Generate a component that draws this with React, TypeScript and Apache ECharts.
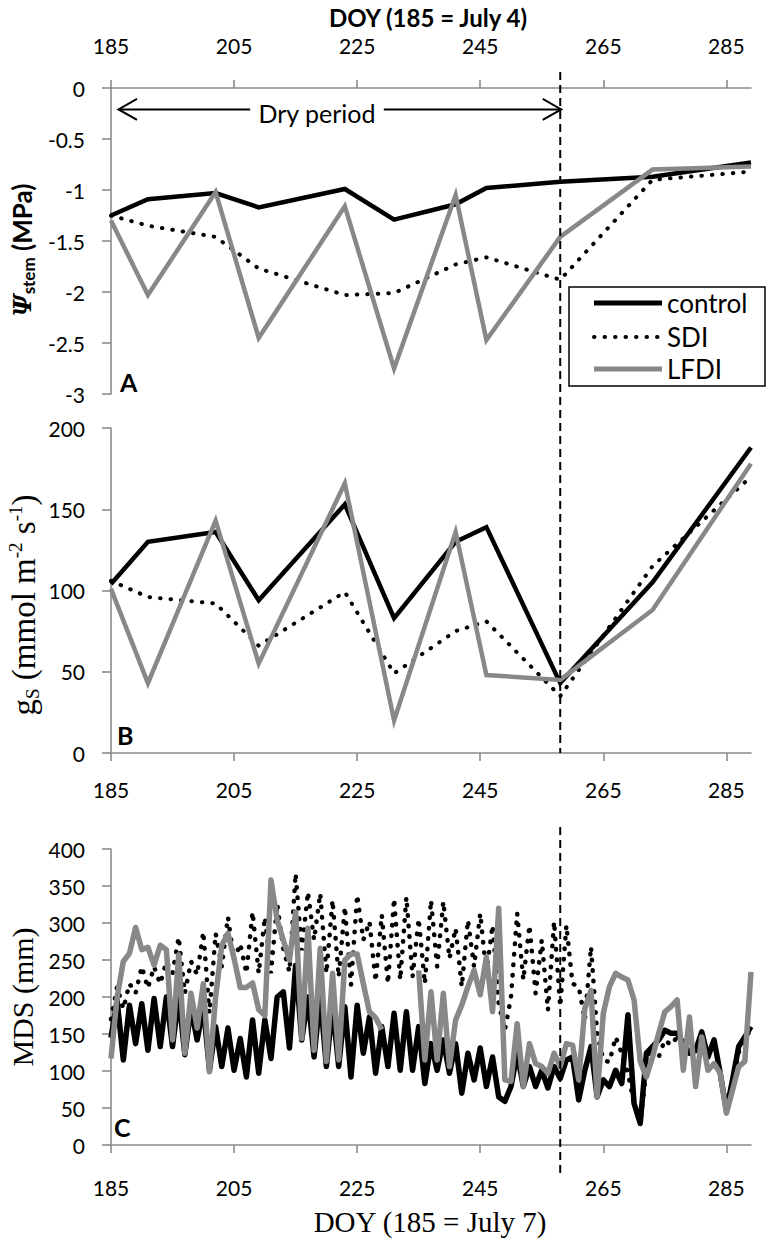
import React, { useEffect, useRef } from "react";
import * as echarts from "echarts";

// ---------------- data ----------------
// Panel A and B sampling days (DOY)
const sampleDays = [185, 191, 202, 209, 223, 231, 241, 246, 258, 273, 289];

// Panel A: stem water potential (MPa)
const psiControl = [-1.25, -1.09, -1.03, -1.17, -0.99, -1.29, -1.14, -0.98, -0.92, -0.87, -0.73];
const psiSDI = [-1.25, -1.35, -1.46, -1.77, -2.03, -2.01, -1.73, -1.66, -1.88, -0.9, -0.82];
const psiLFDI = [-1.3, -2.03, -1.02, -2.45, -1.16, -2.75, -1.05, -2.47, -1.46, -0.8, -0.77];

// Panel B: stomatal conductance (mmol m-2 s-1)
const gsControl = [104, 130, 136, 94, 153, 83, 130, 139, 43, 105, 188];
const gsSDI = [106, 96, 92, 66, 99, 49, 75, 81, 35, 115, 170];
const gsLFDI = [101, 43, 143, 55, 166, 20, 136, 48, 45, 88, 178];

// Panel C: daily MDS (mm), DOY 185 ... 289
const mdsFirstDay = 185;
const mdsControl = [
  145, 195, 115, 189, 137, 191, 128, 198, 133, 200,
  133, 200, 122, 185, 142, 187, 101, 160, 106, 158,
  101, 144, 92, 169, 97, 169, 117, 200, 207, 131,
  243, 142, 200, 119, 200, 106, 187, 106, 187, 92,
  189, 124, 173, 97, 160, 106, 178, 101, 180, 101,
  160, 83, 137, 101, 142, 97, 137, 70, 124, 88,
  131, 79, 119, 65, 59, 79, 124, 79, 106, 79,
  101, 77, 106, 90, 115, 119, 61, 101, 133, 65,
  88, 79, 101, 83, 176, 56, 29, 124, 133, 142,
  155, 151, 151, 137, 124, 128, 153, 119, 142, 97,
  47, 88, 133, 146, 160,
];
const mdsSDI = [
  170, 214, 184, 218, 205, 241, 212, 241, 218, 248,
  232, 281, 205, 248, 230, 288, 178, 286, 241, 308,
  250, 272, 232, 315, 232, 308, 232, 326, 265, 234,
  367, 263, 342, 277, 340, 232, 331, 227, 322, 216,
  338, 277, 302, 221, 311, 218, 333, 223, 335, 227,
  306, 218, 331, 241, 329, 252, 293, 214, 304, 241,
  313, 232, 297, 191, 155, 200, 313, 223, 297, 205,
  277, 182, 302, 187, 297, 218, 214, 169, 268, 151,
  115, 112, 146, 124, 97, 56, 29, 101, 133, 119,
  142, 135, 146, 140, 125, 125, 150, 120, 140, 95,
  45, 85, 125, 145, 155,
];
const mdsLFDI = [
  117, 200, 248, 259, 294, 264, 267, 243, 270, 264,
  142, 257, 124, 205, 158, 218, 99, 200, 270, 286,
  252, 213, 213, 219, 183, 175, 358, 304, 277, 250,
  315, 144, 293, 128, 266, 113, 232, 115, 250, 258,
  258, 218, 180, 172, 156, null, null, null, null, null,
  236, 115, 207, 115, 205, 106, 169, 189, 214, 236,
  203, 254, 180, 320, 88, 86, 164, 79, 137, 110,
  106, 97, 124, 106, 137, 135, 88, 185, 209, 65,
  178, 214, 232, 227, 223, 196, 113, 92, 119, 151,
  180, 187, 196, 101, 173, 79, 146, 101, 110, 97,
  43, 74, 106, 113, 234,
];

const seriesNames = ["control", "SDI", "LFDI"];
const doyTicks = [185, 205, 225, 245, 265, 285];
const doyMin = 185;
const doyMax = 289;
const irrigationResumeDay = 258;

// ---------------- styles ----------------
const BLACK = "#000000";
const GRAY = "#888888";
const AXIS = "#8c8c8c";
const SANS = "Lato, 'Open Sans', sans-serif";
const SERIF = "'Liberation Serif', 'DejaVu Serif', serif";

const pairs = (days: number[], vals: (number | null)[]) =>
  vals.map((v, i) => [days[i], v]);
const mdsDays = mdsControl.map((_, i) => mdsFirstDay + i);

const lineStyles = (join: string, w: number, dotW: number) => [
  { color: BLACK, width: w, type: "solid", join },
  { color: BLACK, width: dotW, type: [0.5, 10], cap: "round" },
  { color: GRAY, width: w, type: "solid", join },
];

export default function App() {
  const ref = useRef<HTMLDivElement>(null);

  useEffect(() => {
    if (!ref.current) return;
    const chart = echarts.init(ref.current, null, { renderer: "svg" });

    const panels = [
      { days: sampleDays, data: [psiControl, psiSDI, psiLFDI], join: "miter", w: 4.5, dotW: 4 },
      { days: sampleDays, data: [gsControl, gsSDI, gsLFDI], join: "miter", w: 4.5, dotW: 4 },
      { days: mdsDays, data: [mdsControl, mdsSDI, mdsLFDI], join: "round", w: 5.5, dotW: 4.5 },
    ];

    const series: any[] = [];
    panels.forEach((p, gi) => {
      const ls = lineStyles(p.join, p.w, p.dotW);
      p.data.forEach((vals, si) => {
        series.push({
          type: "line",
          name: seriesNames[si],
          xAxisIndex: gi,
          yAxisIndex: gi,
          data: pairs(p.days, vals),
          showSymbol: false,
          symbol: "none",
          connectNulls: false,
          lineStyle: ls[si],
          z: 2 + si,
          silent: true,
        });
      });
    });

    const grids = [
      { left: 111, top: 88, width: 640, height: 306 },
      { left: 111, top: 428, width: 640, height: 325 },
      { left: 111, top: 849, width: 640, height: 296 },
    ];
    const yCfg = [
      { min: -3, max: 0, interval: 0.5 },
      { min: 0, max: 200, interval: 50 },
      { min: 0, max: 400, interval: 50 },
    ];
    const axisLineStyle = { color: AXIS, width: 1.6 };
    const labelFont = { fontFamily: SANS, fontSize: 21, color: "#000" };

    const option: any = {
      animation: false,
      backgroundColor: "#ffffff",
      grid: grids,
      xAxis: [0, 1, 2].map((i) => ({
        type: "value",
        gridIndex: i,
        min: doyMin,
        max: doyMax,
        position: i === 0 ? "top" : "bottom",
        axisLine: { show: true, onZero: false, lineStyle: axisLineStyle },
        axisTick: { show: true, customValues: doyTicks, length: 8, lineStyle: axisLineStyle },
        axisLabel: { show: true, customValues: doyTicks, margin: [32, 26, 32][i], ...labelFont },
        splitLine: { show: false },
      })),
      yAxis: yCfg.map((c, i) => ({
        type: "value",
        gridIndex: i,
        ...c,
        axisLine: { show: true, onZero: false, lineStyle: axisLineStyle },
        axisTick: { show: true, length: 9, lineStyle: axisLineStyle },
        axisLabel: { show: true, margin: 26, ...labelFont },
        splitLine: { show: false },
      })),
      series,
    };
    chart.setOption(option);

    const xRef = chart.convertToPixel({ xAxisIndex: 0 }, irrigationResumeDay) as number;
    const xStart = chart.convertToPixel({ xAxisIndex: 0 }, doyMin) as number;
    const yArrow = chart.convertToPixel({ yAxisIndex: 0 }, -0.21) as number;

    const txt = (x: number, y: number, text: string, font: any, extra: any = {}) => ({
      type: "text",
      x,
      y,
      z: 60,
      silent: true,
      ...extra,
      style: {
        text,
        fill: "#000",
        textAlign: "center",
        textVerticalAlign: "middle",
        ...font,
      },
    });

    const legendRows = [
      { y: 303, name: seriesNames[0], style: { stroke: BLACK, lineWidth: 5 } },
      { y: 337, name: seriesNames[1], style: { stroke: BLACK, lineWidth: 4, lineDash: [0.5, 10], lineCap: "round" } },
      { y: 369, name: seriesNames[2], style: { stroke: GRAY, lineWidth: 5 } },
    ];

    const graphic: any[] = [
      // dashed line marking irrigation resumption
      {
        type: "line", z: 50, silent: true,
        shape: { x1: xRef, y1: 72, x2: xRef, y2: 753 },
        style: { stroke: BLACK, lineWidth: 2, lineDash: [8, 5] },
      },
      {
        type: "line", z: 50, silent: true,
        shape: { x1: xRef, y1: 827, x2: xRef, y2: 1173 },
        style: { stroke: BLACK, lineWidth: 2, lineDash: [8, 5] },
      },
      // Dry period arrow
      {
        type: "line", z: 55, silent: true,
        shape: { x1: xStart + 7.5, y1: yArrow, x2: xRef + 1, y2: yArrow },
        style: { stroke: BLACK, lineWidth: 2 },
      },
      {
        type: "polyline", z: 55, silent: true,
        shape: { points: [[xStart + 26, yArrow - 10.5], [xStart + 7.5, yArrow], [xStart + 26, yArrow + 10.5]] },
        style: { stroke: BLACK, lineWidth: 2, fill: null },
      },
      {
        type: "polyline", z: 55, silent: true,
        shape: { points: [[xRef - 17.5, yArrow - 10.5], [xRef + 1, yArrow], [xRef - 17.5, yArrow + 10.5]] },
        style: { stroke: BLACK, lineWidth: 2, fill: null },
      },
      txt(317, yArrow + 4, "Dry period", { fontFamily: SANS, fontSize: 25, backgroundColor: "#fff", padding: [0, 8] }),
      // panel letters
      txt(120, 382, "A", { fontFamily: SANS, fontSize: 25, fontWeight: "bold", textAlign: "left" }),
      txt(117, 735, "B", { fontFamily: SANS, fontSize: 25, fontWeight: "bold", textAlign: "left" }),
      txt(114, 1127, "C", { fontFamily: SANS, fontSize: 25, fontWeight: "bold", textAlign: "left" }),
      // titles
      txt(428, 17, "DOY (185 = July 4)", { fontFamily: SANS, fontSize: 24, fontWeight: "bold" }),
      txt(430, 1222, "DOY (185 = July 7)", { fontFamily: SERIF, fontSize: 29 }),
      txt(22, 250, "{psi|Ψ}{sub|stem}{b| (MPa)}", {
        rich: {
          psi: { fontFamily: "'DejaVu Serif', serif", fontWeight: "bold", fontStyle: "italic", fontSize: 24, lineHeight: 30, fill: "#000" },
          sub: { fontFamily: SANS, fontWeight: "bold", fontSize: 17, verticalAlign: "bottom", fill: "#000" },
          b: { fontFamily: SANS, fontWeight: "bold", fontSize: 26, lineHeight: 30, fill: "#000" },
        },
      }, { rotation: Math.PI / 2 }),
      txt(24, 605, "{t|g}{sub|S}{t| (mmol m}{sup|-2}{t| s}{sup|-1}{t|)}", {
        rich: {
          t: { fontFamily: SERIF, fontSize: 33, lineHeight: 36, fill: "#000" },
          sub: { fontFamily: SERIF, fontSize: 19, verticalAlign: "bottom", fill: "#000" },
          sup: { fontFamily: SERIF, fontSize: 19, verticalAlign: "top", fill: "#000" },
        },
      }, { rotation: Math.PI / 2 }),
      txt(22, 997, "MDS (mm)", { fontFamily: SERIF, fontSize: 30 }, { rotation: Math.PI / 2 }),
      // legend
      {
        type: "rect", z: 100, silent: true,
        shape: { x: 569, y: 287, width: 196, height: 99 },
        style: { fill: "#fff", stroke: BLACK, lineWidth: 1.5 },
      },
      ...legendRows.flatMap((r) => [
        {
          type: "line", z: 101, silent: true,
          shape: { x1: 594, y1: r.y, x2: 662, y2: r.y },
          style: r.style,
        },
        {
          type: "text", z: 101, silent: true, x: 667, y: r.y,
          style: { text: r.name, fill: "#000", fontFamily: SANS, fontSize: 26, textAlign: "left", textVerticalAlign: "middle" },
        },
      ]),
    ];

    chart.setOption({ graphic });

    return () => chart.dispose();
  }, []);

  return (
    <div
      ref={ref}
      style={{ position: "absolute", left: 0, top: 0, width: 766, height: 1240, background: "#fff" }}
    />
  );
}
